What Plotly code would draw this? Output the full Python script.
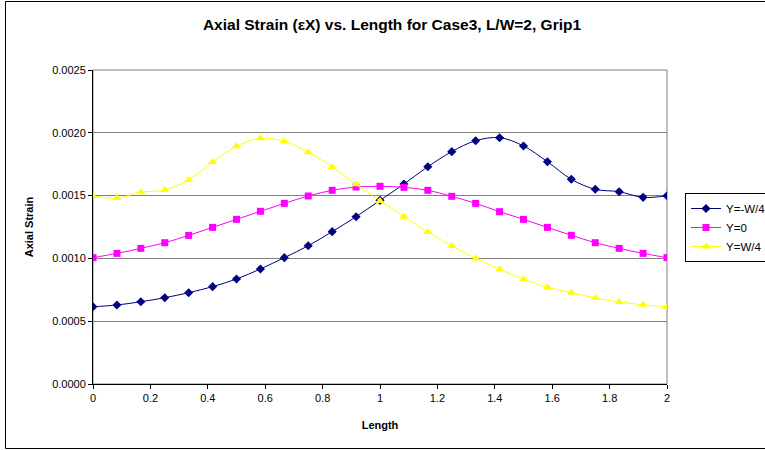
import plotly.graph_objects as go

length = [i * 2 / 24 for i in range(25)]

y_neg_w4 = [0.000615, 0.000629, 0.000655, 0.000687, 0.000727, 0.000775, 0.000836, 0.000916,
            0.001006, 0.001101, 0.001213, 0.001332, 0.001462, 0.001592, 0.001730, 0.001850,
            0.001937, 0.001961, 0.001895, 0.001770, 0.001630, 0.001550, 0.001531, 0.001486,
            0.001499]
y_zero = [0.001006, 0.001040, 0.001080, 0.001125, 0.001183, 0.001247, 0.001311, 0.001375,
          0.001438, 0.001497, 0.001542, 0.001568, 0.001574, 0.001566, 0.001542, 0.001494,
          0.001438, 0.001372, 0.001311, 0.001247, 0.001184, 0.001125, 0.001080, 0.001040,
          0.001006]
y_pos_w4 = [0.001497, 0.001481, 0.001526, 0.001545, 0.001624, 0.001768, 0.001892, 0.001956,
            0.001932, 0.001845, 0.001728, 0.001590, 0.001458, 0.001332, 0.001210, 0.001099,
            0.001000, 0.000913, 0.000834, 0.000770, 0.000727, 0.000685, 0.000653, 0.000631,
            0.000615]

series_names = ["Y=-W/4", "Y=0", "Y=W/4"]
x_ticks = [0, 0.2, 0.4, 0.6, 0.8, 1, 1.2, 1.4, 1.6, 1.8, 2]
y_ticks = [0, 0.0005, 0.001, 0.0015, 0.002, 0.0025]

FONT = "Liberation Sans, Arial, sans-serif"

fig = go.Figure()
styles = [
    ("#000080", "diamond", 7),
    ("#FF00FF", "square", 7),
    ("#FFFF00", "triangle-up", 8),
]
for name, ys, (col, sym, sz) in zip(series_names, [y_neg_w4, y_zero, y_pos_w4], styles):
    fig.add_trace(go.Scatter(
        x=length, y=ys, name=name, mode="lines+markers",
        line=dict(color=col, width=1, shape="spline"),
        marker=dict(color=col, symbol=sym, size=sz, line=dict(width=0)),
    ))

L, R, T, B = 93, 667, 70, 384
W, H = 765, 450
pw, ph = R - L, B - T

def px_x(p):
    return (p - L) / pw

def px_y(p):
    return (B - p) / ph

fig.update_layout(
    width=W, height=H,
    margin=dict(l=L, r=W - R, t=T, b=H - B, autoexpand=False),
    paper_bgcolor="white", plot_bgcolor="white",
    font=dict(family=FONT, size=11, color="black"),
    title=dict(text="<b>Axial Strain (εX) vs. Length for Case3, L/W=2, Grip1</b>",
               x=392 / W, xanchor="center", y=1 - 25 / H, yanchor="middle",
               font=dict(size=15.5, family=FONT)),
    xaxis=dict(range=[0, 2], tickvals=x_ticks, ticktext=[("%g" % v) for v in x_ticks],
               showgrid=False, zeroline=False, showline=True, linecolor="black", linewidth=1,
               ticks="outside", ticklen=4, tickcolor="black",
               title=dict(text="<b>Length</b>", font=dict(size=11), standoff=18)),
    yaxis=dict(range=[0, 0.0025], tickvals=y_ticks, tickformat=".4f",
               showgrid=True, gridcolor="#808080", gridwidth=1, zeroline=False,
               showline=True, linecolor="black", linewidth=1,
               ticks="outside", ticklen=4, tickcolor="black",
               title=dict(text="<b>Axial Strain</b>", font=dict(size=11), standoff=16)),
    legend=dict(x=px_x(685), y=px_y(193), xanchor="left", yanchor="top",
                bordercolor="black", borderwidth=1, bgcolor="white",
                itemwidth=30,
                font=dict(size=11.5, family=FONT), tracegroupgap=0),
    shapes=[
        dict(type="rect", xref="paper", yref="paper", x0=0, x1=1, y0=0, y1=1,
             line=dict(color="#808080", width=1), layer="below"),
        dict(type="rect", xref="paper", yref="paper",
             x0=px_x(5.5), x1=px_x(780), y0=px_y(448.5), y1=px_y(1.5),
             line=dict(color="black", width=1), layer="above"),
    ],
)

fig.write_html("out.html", config={"displayModeBar": False},
               post_script="document.body.style.margin='0';")
